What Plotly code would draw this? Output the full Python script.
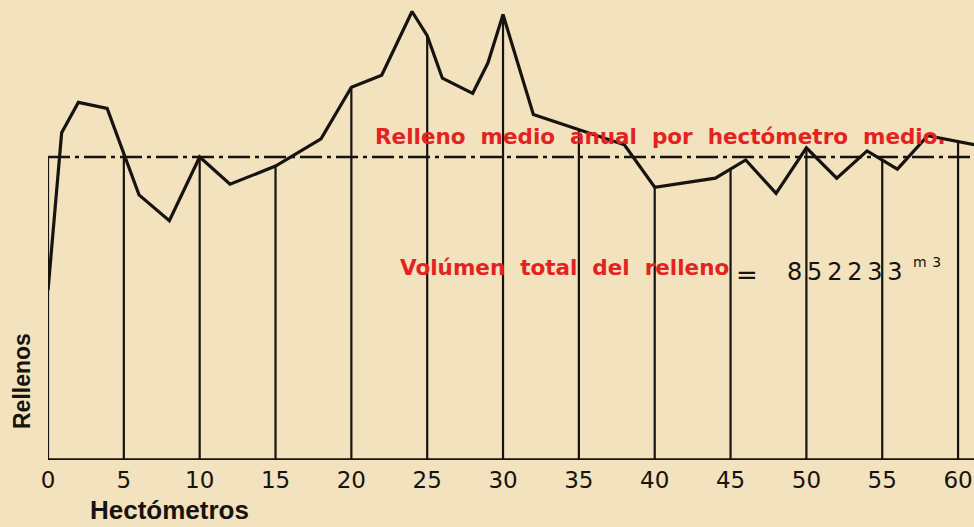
import numpy as np
import plotly.graph_objects as go

# Profile of fill ("Rellenos") along the river, in hectometres
hm = [0, 0.9, 2, 3.9, 6, 8, 10, 12, 15, 18, 20, 22, 24, 25, 26, 28, 29, 30,
      32, 38, 40, 44, 46, 48, 50, 52, 54, 56, 58, 61.1]
relleno = [5.6, 10.8, 11.8, 11.6, 8.75, 7.9, 10.0, 9.1, 9.7, 10.6, 12.3, 12.7,
           14.8, 14.0, 12.6, 12.1, 13.1, 14.7, 11.4, 10.4, 9.0, 9.3, 9.9, 8.8,
           10.3, 9.3, 10.2, 9.6, 10.7, 10.4]
relleno_medio = 10.0
ticks = list(range(0, 65, 5))
tick_labels = [str(t) for t in ticks]

BG = "#f2e2bd"
INK = "#161310"
RED = "#e32222"

fig = go.Figure()

# vertical ordinates every 5 hm (from base to profile; the first one up to the mean line)
vx, vy = [], []
for t in ticks:
    top = relleno_medio if t == 0 else float(np.interp(t, hm, relleno))
    vx += [t, t, None]
    vy += [0, top, None]
fig.add_trace(go.Scatter(x=vx, y=vy, mode="lines",
                         line=dict(color=INK, width=2.2), hoverinfo="skip"))

# mean line (dash-dot)
fig.add_trace(go.Scatter(x=[0, 61.1], y=[relleno_medio, relleno_medio], mode="lines",
                         line=dict(color=INK, width=2.4, dash="22px,5px,4px,5px"),
                         hoverinfo="skip"))

# profile
fig.add_trace(go.Scatter(x=hm, y=relleno, mode="lines",
                         line=dict(color=INK, width=3.2), hoverinfo="skip"))

fig.add_annotation(x=21.4, y=10.66, xref="x", yref="y", xanchor="left", yanchor="middle",
                   text="<b>Relleno  medio  anual  por  hectómetro  medio.</b>",
                   showarrow=False, font=dict(family="DejaVu Sans", size=21.5, color=RED))
fig.add_annotation(x=23.1, y=6.34, xref="x", yref="y", xanchor="left", yanchor="middle",
                   text="<b>Volúmen  total  del  relleno</b>",
                   showarrow=False, font=dict(family="DejaVu Sans", size=21.5, color=RED))
fig.add_annotation(x=46.1, y=6.1, xref="x", yref="y", xanchor="center", yanchor="middle",
                   text="=", showarrow=False,
                   font=dict(family="DejaVu Sans", size=26, color=INK))
fig.add_annotation(x=48.6, y=6.2, xref="x", yref="y", xanchor="left", yanchor="middle",
                   text="8\u20095\u20092\u20092\u20093\u20093", showarrow=False,
                   font=dict(family="DejaVu Sans", size=24, color=INK))
fig.add_annotation(x=56.9, y=6.55, xref="x", yref="y", xanchor="left", yanchor="middle",
                   text="m\u2009\u20093", showarrow=False,
                   font=dict(family="DejaVu Sans", size=14, color=INK))

fig.update_layout(
    width=974, height=527,
    margin=dict(l=48, r=0, t=0, b=67),
    paper_bgcolor=BG, plot_bgcolor=BG,
    showlegend=False,
    xaxis=dict(range=[0, 61.05], tickmode="array", tickvals=ticks, ticktext=tick_labels,
               showgrid=False, zeroline=False, showline=False, ticks="",
               ticklabelstandoff=4,
               tickfont=dict(family="DejaVu Sans", size=23, color=INK)),
    yaxis=dict(range=[0, 15.18], showticklabels=False, showgrid=False, zeroline=False,
               showline=False, ticks=""),
)
# base line
fig.add_shape(type="line", xref="x", yref="y", x0=0, x1=61.05, y0=0, y1=0,
              line=dict(color=INK, width=3.5))

fig.add_annotation(x=(88 - 48) / 926, y=(460 - 510) / 460, xref="paper", yref="paper",
                   xanchor="left", yanchor="middle", text="<b>Hectómetros</b>",
                   showarrow=False, font=dict(family="Liberation Sans", size=26, color=INK))
fig.add_annotation(x=(22 - 48) / 926, y=(460 - 381) / 460, xref="paper", yref="paper",
                   xanchor="center", yanchor="middle", text="<b>Rellenos</b>", textangle=-90,
                   showarrow=False, font=dict(family="Liberation Sans", size=23, color=INK))

fig.write_html("out.html", config={"displayModeBar": False},
               post_script="document.body.style.margin='0';")
